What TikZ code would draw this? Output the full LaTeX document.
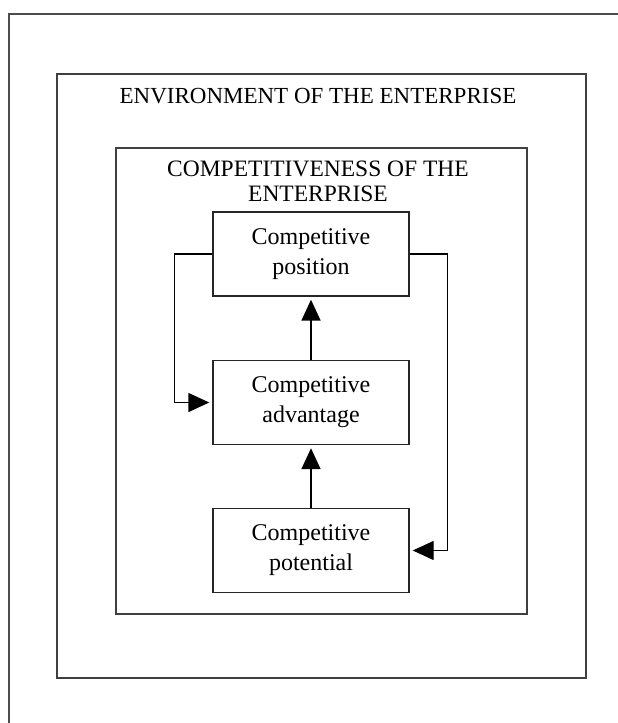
\documentclass[tikz,border=0pt]{standalone}
\usepackage{fontspec}
\setmainfont{Liberation Serif}
\usetikzlibrary{arrows.meta}
\begin{document}
\begin{tikzpicture}[x=1pt,y=1pt,
  frame/.style={draw=black!75,line width=1.3pt},
  stage/.style={draw=black!85,line width=1.4pt,minimum width=196pt,minimum height=84pt,inner sep=0pt,align=center,font=\fontsize{24}{30}\selectfont},
  link/.style={line width=1.8pt,-{Triangle[width=19pt,length=21pt]},shorten >=3pt},
  loop/.style={line width=1.4pt,-{Triangle[width=19pt,length=21pt]},shorten >=3pt}]
\useasboundingbox (0,0) rectangle (618,-723);
\coordinate (tl) at (9,-14);
\coordinate (tr) at (618,-14);
\coordinate (bl) at (9,-723);
\draw[draw=black!70,line width=1.3pt] (tr) -- (tl) -- (bl);
\node[frame,minimum width=529pt,minimum height=604pt,inner sep=0pt] (env) at (321.5,-376) {};
\node[font=\fontsize{23}{25}\selectfont] (envt) at (318,-96) {ENVIRONMENT OF THE ENTERPRISE};
\node[frame,minimum width=411pt,minimum height=466pt,inner sep=0pt] (comp) at (321.5,-381) {};
\node[font=\fontsize{23.5}{25}\selectfont,align=center] (compt) at (318,-181) {COMPETITIVENESS OF THE\\ENTERPRISE};
\node[stage] (pos) at (311,-254) {Competitive\\position};
\node[stage] (adv) at (311,-402.5) {Competitive\\advantage};
\node[stage] (pot) at (311,-550.5) {Competitive\\potential};
\draw[link] (adv.north) -- (pos.south);
\draw[link] (pot.north) -- (adv.south);
\draw[loop] (pos.west) -- ++(-38,0) |- (adv.west);
\draw[loop] (pos.east) -- ++(38,0) |- (pot.east);
\end{tikzpicture}
\end{document}
